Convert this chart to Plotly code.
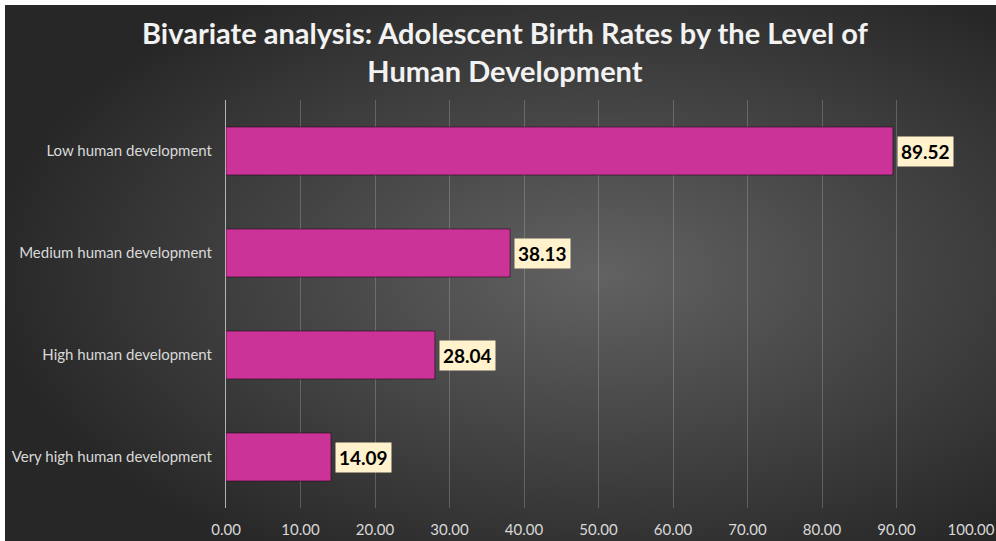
import plotly.graph_objects as go

categories = ["Very high human development", "High human development",
              "Medium human development", "Low human development"]
values = [14.09, 28.04, 38.13, 89.52]
tick_vals = [0, 10, 20, 30, 40, 50, 60, 70, 80, 90, 100]
tick_text = ["0.00", "10.00", "20.00", "30.00", "40.00", "50.00",
             "60.00", "70.00", "80.00", "90.00", "100.00"]
title_text = "Bivariate analysis: Adolescent Birth Rates by the Level of<br>Human Development"

W, H = 996, 541
ML, MR, MT, MB = 226, 25, 100, 33
PW, PH = W - ML - MR, H - MT - MB

svg = ("data:image/svg+xml;utf8,"
       "<svg xmlns='http://www.w3.org/2000/svg' width='991' height='536' viewBox='0 0 991 536' preserveAspectRatio='none'>"
       "<defs><radialGradient id='g' cx='0.6' cy='0.5' r='0.62'>"
       "<stop offset='0' stop-color='%23626262'/>"
       "<stop offset='1' stop-color='%23272727'/>"
       "</radialGradient></defs>"
       "<rect width='991' height='536' fill='url(%23g)'/></svg>")

fig = go.Figure()
fig.add_trace(go.Bar(
    y=categories, x=values, orientation="h",
    marker=dict(color="#CC3399", line=dict(color="rgba(40,10,30,0.6)", width=1)),
    width=0.47, hoverinfo="skip",
))

for c, v in zip(categories, values):
    fig.add_annotation(
        x=v, y=c, xref="x", yref="y", text=f"<b>{v:.2f}</b>",
        showarrow=False, xanchor="left", xshift=4,
        font=dict(family="Lato", size=19, color="#000000"),
        bgcolor="#FFF2CC", borderpad=3,
    )

fig.add_layout_image(dict(
    source=svg, xref="paper", yref="paper",
    x=(5 - ML) / PW, y=1 + (MT - 5) / PH,
    sizex=(W - 5) / PW, sizey=(H - 5) / PH,
    sizing="stretch", xanchor="left", yanchor="top", layer="below",
))

fig.update_layout(
    width=W, height=H,
    margin=dict(l=ML, r=MR, t=MT, b=MB, autoexpand=False),
    paper_bgcolor="#FFFFFF", plot_bgcolor="rgba(0,0,0,0)",
    showlegend=False,
    title=dict(text=f"<b>{title_text}</b>", x=0.507, xanchor="center",
               y=1 - 44 / H, yanchor="middle",
               font=dict(family="Lato", size=29, color="#F2F2F2")),
    xaxis=dict(range=[0, 100], tickvals=tick_vals, ticktext=tick_text,
               showgrid=True, gridcolor="rgba(200,200,200,0.28)", gridwidth=1,
               zeroline=False, showline=False, automargin=False,
               tickfont=dict(family="Lato", size=15, color="#D9D9D9"),
               ticks="", ticklabelstandoff=11, fixedrange=True),
    yaxis=dict(showgrid=False, zeroline=False, showline=True, automargin=False,
               linecolor="rgba(210,210,210,0.8)", linewidth=1,
               tickfont=dict(family="Lato", size=15, color="#D9D9D9"),
               ticks="", ticklabelstandoff=10, fixedrange=True),
    bargap=0.53,
)

fig.write_html("out.html", config={"displayModeBar": False})
